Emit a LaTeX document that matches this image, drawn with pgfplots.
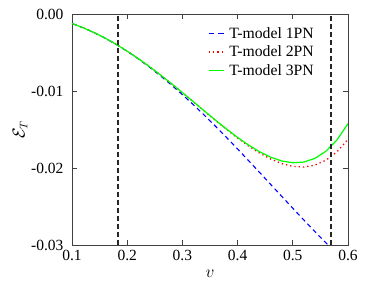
\documentclass[border=0pt]{standalone}
\usepackage{fontspec}
\setmainfont{Liberation Serif}
\usepackage{pgfplots}
\usepackage{pgfplotstable}
\pgfplotsset{compat=1.18}
\pgfplotstableread{
v e1 e2 e3
0.10 -0.0012404 -0.0012400 -0.0012400
0.12 -0.0017800 -0.0017790 -0.0017790
0.14 -0.0024130 -0.0024104 -0.0024103
0.16 -0.0031369 -0.0031310 -0.0031310
0.18 -0.0039489 -0.0039370 -0.0039369
0.20 -0.0048458 -0.0048236 -0.0048233
0.22 -0.0058243 -0.0057848 -0.0057842
0.24 -0.0068803 -0.0068138 -0.0068125
0.26 -0.0080097 -0.0079022 -0.0078997
0.28 -0.0092078 -0.0090401 -0.0090355
0.30 -0.0104695 -0.0102159 -0.0102079
0.32 -0.0117897 -0.0114160 -0.0114027
0.34 -0.0131624 -0.0126248 -0.0126032
0.36 -0.0145816 -0.0138241 -0.0137901
0.38 -0.0160409 -0.0149931 -0.0149406
0.40 -0.0175333 -0.0161080 -0.0160288
0.42 -0.0190518 -0.0171417 -0.0170247
0.44 -0.0205886 -0.0180635 -0.0178937
0.46 -0.0221358 -0.0188389 -0.0185966
0.48 -0.0236851 -0.0194291 -0.0190886
0.50 -0.0252279 -0.0197907 -0.0193186
0.52 -0.0267550 -0.0198752 -0.0192292
0.54 -0.0282569 -0.0196288 -0.0187551
0.56 -0.0297241 -0.0189919 -0.0178232
0.58 -0.0311461 -0.0178989 -0.0163513
0.60 -0.0325125 -0.0162771 -0.0142474
}\datatable
\begin{document}
\begin{tikzpicture}[x=1pt,y=1pt]
\useasboundingbox (-72,-44) rectangle (302,245);
\begin{axis}[
  at={(0,0)}, anchor=south west,
  scale only axis, width=276pt, height=231pt,
  xmin=0.1, xmax=0.6, ymin=-0.03, ymax=0,
  scaled y ticks=false, scaled x ticks=false,
  xtick={0.1,0.2,0.3,0.4,0.5,0.6},
  xticklabels={0.1,0.2,0.3,0.4,0.5,0.6},
  ytick={-0.03,-0.02,-0.01,0},
  yticklabels={-0.03,-0.02,-0.01,0.00},
  tick align=inside, tick pos=both, major tick length=5pt,
  axis line style={black!75, line width=0.7pt},
  tick style={black!75, line width=0.6pt},
  ticklabel style={font=\fontsize{15.5}{17}\selectfont},
  xticklabel style={yshift=-2pt},
  yticklabel style={xshift=-5pt},
  xlabel={$v$}, ylabel={$\mathcal{E}_T$},
  label style={font=\fontsize{16}{18}\selectfont},
  xlabel style={at={(axis description cs:0.5,-0.1255)}, anchor=center},
  ylabel style={at={(axis description cs:-0.188,0.5)}, anchor=center},
  legend style={draw=none, fill=none, at={(axis description cs:0.481,0.96)}, anchor=north west,
    font=\fontsize{15.7}{17.5}\selectfont, row sep=2pt},
  legend cell align=left,
  legend image code/.code={\draw[#1] (0pt,0pt) -- (15pt,0pt); \path (18pt,0pt);},
]
\addlegendimage{color=blue, line width=1.3pt, dash pattern=on 5.5pt off 4pt}
\addlegendentry{T-model 1PN}
\addlegendimage{color=red, line width=1.3pt, dash pattern=on 1.3pt off 3pt}
\addlegendentry{T-model 2PN}
\addlegendimage{color=green, line width=1.3pt}
\addlegendentry{T-model 3PN}
\addplot[blue, line width=1.1pt, dash pattern=on 4.5pt off 3.5pt, forget plot] table[x=v,y=e1] {\datatable};
\addplot[red, line width=1.3pt, dash pattern=on 1.3pt off 3pt, forget plot] table[x=v,y=e2] {\datatable};
\addplot[green, line width=1.2pt, forget plot] table[x=v,y=e3] {\datatable};
\addplot[black!85, line width=1.4pt, dash pattern=on 5pt off 3pt, forget plot] coordinates {(0.183,-0.03) (0.183,0)};
\addplot[black!85, line width=1.4pt, dash pattern=on 5pt off 3pt, forget plot] coordinates {(0.569,-0.03) (0.569,0)};
\end{axis}
\end{tikzpicture}
\end{document}
